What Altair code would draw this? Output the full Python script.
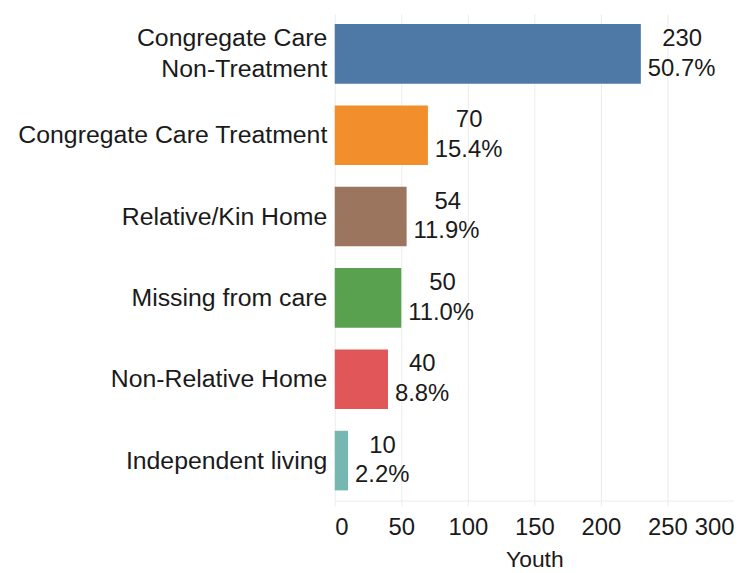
import altair as alt
import pandas as pd

categories = [
    "Congregate Care|Non-Treatment",
    "Congregate Care Treatment",
    "Relative/Kin Home",
    "Missing from care",
    "Non-Relative Home",
    "Independent living",
]
youth = [230, 70, 54, 50, 40, 10]
percents = ["50.7%", "15.4%", "11.9%", "11.0%", "8.8%", "2.2%"]
colors = ["#4e79a7", "#f28e2b", "#9c755f", "#59a14f", "#e15759", "#76b7b2"]
x_ticks = [0, 50, 100, 150, 200, 250, 300]

df = pd.DataFrame({"cat": categories, "youth": youth, "pct": percents})

FONT = "Liberation Sans"
TXT = "#1a1a1a"
GRID = "#ececec"

y_enc = alt.Y(
    "cat:N",
    sort=categories,
    title=None,
    scale=alt.Scale(paddingInner=0.267, paddingOuter=0.125),
    axis=alt.Axis(
        domain=False,
        ticks=False,
        grid=False,
        labelFont=FONT,
        labelFontSize=25,
        labelColor=TXT,
        labelPadding=8,
        labelLimit=400,
        labelLineHeight=31,
        labelExpr="split(datum.label, '|')",
        labelOffset={
            "condition": {"test": "indexof(datum.value, '|') >= 0", "value": -15.5},
            "value": 0,
        },
    ),
)

x_enc = alt.X(
    "youth:Q",
    title="Youth",
    scale=alt.Scale(domain=[0, 300], nice=False),
    axis=alt.Axis(
        values=x_ticks,
        grid=True,
        gridColor=GRID,
        gridWidth=1,
        domainColor=GRID,
        tickColor=GRID,
        tickSize=5,
        labelFont=FONT,
        labelFontSize=24,
        labelColor=TXT,
        labelPadding=10,
        labelFlush=True,
        titleFont=FONT,
        titleFontSize=23,
        titleFontWeight="normal",
        titleColor=TXT,
        titlePadding=9,
    ),
)

base = alt.Chart(df)

bars = base.mark_bar().encode(
    x=x_enc,
    y=y_enc,
    color=alt.Color(
        "cat:N",
        scale=alt.Scale(domain=categories, range=colors),
        legend=None,
    ),
)

pct_text = base.mark_text(
    align="left", baseline="middle", dx=7, dy=15,
    font=FONT, fontSize=24, color=TXT,
).encode(x="youth:Q", y=alt.Y("cat:N", sort=categories), text="pct:N")

count_text = base.mark_text(
    align="center", baseline="middle",
    dx=alt.ExprRef("7 + length(datum.pct) * 6.9"), dy=-15,
    font=FONT, fontSize=24, color=TXT,
).encode(x="youth:Q", y=alt.Y("cat:N", sort=categories), text="youth:Q")

chart = (
    alt.layer(bars, pct_text, count_text)
    .properties(
        width=402,
        height=490,
        autosize=alt.AutoSizeParams(type="none"),
        padding={"left": 329, "top": 4, "right": 0, "bottom": 71},
    )
    .configure_view(stroke=None)
)

chart.save("out.html", embed_options={"renderer": "svg", "actions": False})
